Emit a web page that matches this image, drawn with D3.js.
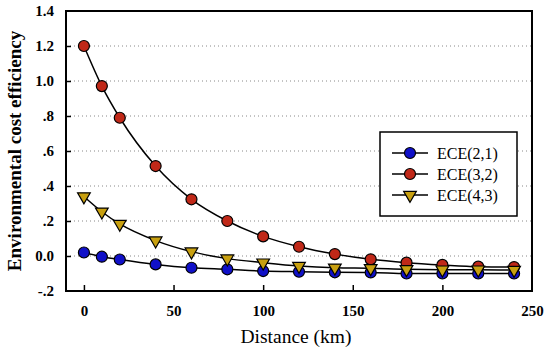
<!DOCTYPE html>
<html>
<head>
<meta charset="utf-8">
<script src="https://cdn.jsdelivr.net/npm/d3@7"></script>
<style>
body { margin:0; background:#fff; }
</style>
</head>
<body>
<svg id="chart" width="550" height="353"></svg>
<script>
// distances (km)
var distance = [0, 10, 20, 40, 60, 80, 100, 120, 140, 160, 180, 200, 220, 240];
var ece21 = [0.02, -0.004, -0.02, -0.048, -0.067, -0.076, -0.086, -0.09, -0.093, -0.094, -0.1, -0.1, -0.1, -0.1];
var ece32 = [1.2, 0.971, 0.79, 0.514, 0.324, 0.2, 0.112, 0.053, 0.011, -0.019, -0.038, -0.051, -0.061, -0.063];
var ece43 = [0.34, 0.253, 0.183, 0.088, 0.025, -0.015, -0.038, -0.057, -0.067, -0.07, -0.076, -0.078, -0.078, -0.08];
var seriesNames = ["ECE(2,1)", "ECE(3,2)", "ECE(4,3)"];
var yTicks = [-0.2, 0, 0.2, 0.4, 0.6, 0.8, 1.0, 1.2, 1.4];
var yTickLabels = ["-.2", "0.0", ".2", ".4", ".6", ".8", "1.0", "1.2", "1.4"];
var xTicks = [0, 50, 100, 150, 200, 250];

var series = [
  {name: seriesNames[0], vals: ece21, shape: "circle", fill: "#1010c8"},
  {name: seriesNames[1], vals: ece32, shape: "circle", fill: "#c02818"},
  {name: seriesNames[2], vals: ece43, shape: "triangle", fill: "#c8a010"}
];

var serif = "'Liberation Serif', 'Times New Roman', 'DejaVu Serif', serif";

var svg = d3.select("#chart");
var pLeft = 66, pTop = 11, pRight = 532, pBottom = 291;

var x = d3.scaleLinear().domain([-10, 250]).range([pLeft, pRight]);
var y = d3.scaleLinear().domain([-0.2, 1.4]).range([pBottom, pTop]);

// grid
svg.selectAll("line.grid")
  .data(yTicks.slice(1, -1))
  .enter().append("line")
  .attr("class", "grid")
  .attr("x1", pLeft).attr("x2", pRight)
  .attr("y1", function(d){ return y(d); })
  .attr("y2", function(d){ return y(d); })
  .attr("stroke", "#888")
  .attr("stroke-width", 1)
  .attr("stroke-dasharray", "1,3");

// axes (ticks inside)
var yAxis = d3.axisLeft(y).tickValues(yTicks).tickSize(-5).tickPadding(12)
  .tickFormat(function(d, i){ return yTickLabels[i]; });
var gy = svg.append("g").attr("transform", "translate(" + pLeft + ",0)").call(yAxis);
gy.attr("font-family", null);
gy.select(".domain").remove();
gy.selectAll(".tick text").style("font-size", "15px").style("font-weight", "bold")
  .style("font-family", serif).attr("fill", "#000");
gy.selectAll(".tick line").attr("stroke", "#000").attr("stroke-width", 1.5);
gy.selectAll(".tick").filter(function(d){ return d == 1.4 || d == -0.2; }).select("line").remove();

var xAxis = d3.axisBottom(x).tickValues(xTicks).tickSize(-6).tickPadding(14);
var gx = svg.append("g").attr("transform", "translate(0," + pBottom + ")").call(xAxis);
gx.attr("font-family", null);
gx.select(".domain").remove();
gx.selectAll(".tick text").style("font-size", "15px").style("font-weight", "bold")
  .style("font-family", serif).attr("fill", "#000");
gx.selectAll(".tick line").attr("stroke", "#000").attr("stroke-width", 1.5);
gx.selectAll(".tick").filter(function(d){ return d == 250; }).select("line").remove();

// frame
svg.append("rect")
  .attr("x", pLeft).attr("y", pTop)
  .attr("width", pRight - pLeft).attr("height", pBottom - pTop)
  .attr("fill", "none").attr("stroke", "#000").attr("stroke-width", 2);

var line = d3.line()
  .x(function(d){ return x(d[0]); })
  .y(function(d){ return y(d[1]); })
  .curve(d3.curveMonotoneX);

var tri = d3.symbol().type(d3.symbolTriangle).size(70);

function marker(g, s, px, py) {
  if (s.shape == "circle") {
    g.append("circle").attr("cx", px).attr("cy", py).attr("r", 5.5)
      .attr("fill", s.fill).attr("stroke", "#000").attr("stroke-width", 1.2);
  } else {
    g.append("path").attr("d", tri)
      .attr("transform", "translate(" + px + "," + py + ") rotate(180)")
      .attr("fill", s.fill).attr("stroke", "#000").attr("stroke-width", 1.2);
  }
}

series.forEach(function(s){
  var pts = distance.map(function(d, i){ return [d, s.vals[i]]; });
  svg.append("path").datum(pts)
    .attr("d", line)
    .attr("fill", "none").attr("stroke", "#000").attr("stroke-width", 1.5);
});
series.forEach(function(s){
  var g = svg.append("g");
  distance.forEach(function(d, i){ marker(g, s, x(d), y(s.vals[i])); });
});

// legend
var lg = svg.append("g");
lg.append("rect").attr("x", 380).attr("y", 132).attr("width", 137).attr("height", 84)
  .attr("fill", "#fff").attr("stroke", "#000").attr("stroke-width", 1.5);
series.forEach(function(s, i){
  var ly = 153 + i * 21;
  lg.append("line").attr("x1", 392).attr("x2", 428).attr("y1", ly).attr("y2", ly)
    .attr("stroke", "#000").attr("stroke-width", 1.5);
  marker(lg, s, 410, ly);
  lg.append("text").attr("x", 437).attr("y", ly + 6)
    .style("font-family", serif).style("font-size", "16px").text(s.name);
});

// axis titles
svg.append("text")
  .attr("transform", "translate(21," + ((pTop + pBottom) / 2) + ") rotate(-90)")
  .attr("text-anchor", "middle")
  .style("font-family", serif).style("font-size", "19px").style("font-weight", "bold")
  .text("Environmental cost efficiency");

svg.append("text")
  .attr("x", 296).attr("y", 343)
  .attr("text-anchor", "middle")
  .style("font-family", serif).style("font-size", "19.5px")
  .text("Distance (km)");
</script>
</body>
</html>
